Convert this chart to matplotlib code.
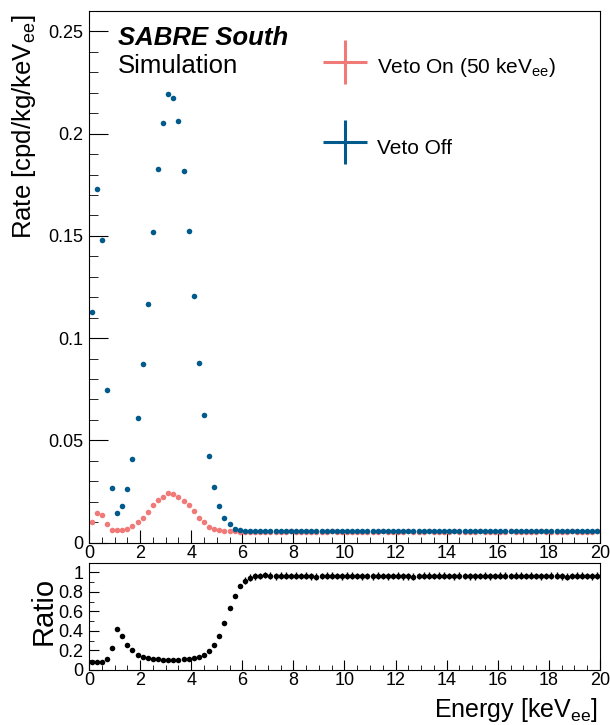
import numpy as np
import matplotlib
matplotlib.use('Agg')
import matplotlib.pyplot as plt
from matplotlib.lines import Line2D
from matplotlib.ticker import MultipleLocator, FuncFormatter

plt.rcParams['font.family'] = ['Liberation Sans', 'DejaVu Sans']
plt.rcParams['mathtext.default'] = 'regular'

# 100 bins of 0.2 keV from 0 to 20 keV
bin_edges = np.linspace(0, 20, 101)
energy = 0.5 * (bin_edges[:-1] + bin_edges[1:])

veto_off = [0.113, 0.173, 0.148, 0.0747, 0.0267, 0.0143, 0.0177, 0.0264, 0.0407, 0.0607,
            0.0871, 0.1168, 0.152, 0.1825, 0.2052, 0.2194, 0.2175, 0.206, 0.1815, 0.1526,
            0.1205, 0.0878, 0.0624, 0.0423, 0.0274, 0.0178, 0.0122, 0.0089, 0.0068, 0.0059,
            0.0055, 0.0054, 0.0055, 0.0055, 0.0054, 0.0055, 0.0055, 0.0054, 0.0055, 0.0056,
            0.0055, 0.0054, 0.0055, 0.0055, 0.0055, 0.0054, 0.0055, 0.0056, 0.0055, 0.0055,
            0.0054, 0.0055, 0.0055, 0.0054, 0.0055, 0.0055, 0.0055, 0.0056, 0.0055, 0.0054,
            0.0055, 0.0055, 0.0056, 0.0055, 0.0055, 0.0055, 0.0056, 0.0055, 0.0055, 0.0054,
            0.0055, 0.0056, 0.0055, 0.0055, 0.0055, 0.0055, 0.0056, 0.0055, 0.0055, 0.0054,
            0.0055, 0.0055, 0.0056, 0.0055, 0.0055, 0.0055, 0.0054, 0.0055, 0.0056, 0.0055,
            0.0055, 0.0055, 0.0054, 0.0055, 0.0056, 0.0055, 0.0055, 0.0054, 0.0055, 0.0057]

veto_on = [0.0100, 0.0144, 0.0133, 0.0089, 0.0061, 0.0059, 0.0059, 0.0068, 0.0082, 0.0100,
           0.0121, 0.0147, 0.0183, 0.0208, 0.0225, 0.0240, 0.0237, 0.0225, 0.0204, 0.0183,
           0.0156, 0.0121, 0.0099, 0.0076, 0.0066, 0.0061, 0.0057, 0.0056, 0.0054, 0.0053,
           0.0053, 0.0052, 0.0053, 0.0053, 0.0052, 0.0053, 0.0053, 0.0052, 0.0053, 0.0054,
           0.0053, 0.0052, 0.0053, 0.0053, 0.0053, 0.0052, 0.0053, 0.0054, 0.0053, 0.0053,
           0.0052, 0.0053, 0.0053, 0.0052, 0.0053, 0.0053, 0.0053, 0.0054, 0.0053, 0.0052,
           0.0053, 0.0053, 0.0054, 0.0053, 0.0053, 0.0053, 0.0054, 0.0053, 0.0053, 0.0052,
           0.0053, 0.0054, 0.0053, 0.0053, 0.0053, 0.0053, 0.0054, 0.0053, 0.0053, 0.0052,
           0.0053, 0.0053, 0.0054, 0.0053, 0.0053, 0.0053, 0.0052, 0.0053, 0.0054, 0.0053,
           0.0053, 0.0053, 0.0052, 0.0053, 0.0054, 0.0053, 0.0053, 0.0052, 0.0053, 0.0055]

ratio = [0.082, 0.078, 0.085, 0.116, 0.224, 0.415, 0.347, 0.259, 0.200, 0.156,
         0.133, 0.119, 0.112, 0.109, 0.105, 0.105, 0.105, 0.105, 0.109, 0.116,
         0.122, 0.133, 0.150, 0.194, 0.255, 0.347, 0.483, 0.639, 0.762, 0.864,
         0.915, 0.946, 0.959, 0.963, 0.973, 0.966, 0.962, 0.967, 0.965, 0.963,
         0.966, 0.964, 0.967, 0.962, 0.955, 0.963, 0.966, 0.965, 0.964, 0.962,
         0.966, 0.965, 0.963, 0.960, 0.964, 0.962, 0.966, 0.963, 0.962, 0.964,
         0.966, 0.962, 0.960, 0.955, 0.964, 0.966, 0.965, 0.963, 0.967, 0.966,
         0.964, 0.962, 0.966, 0.963, 0.960, 0.962, 0.964, 0.965, 0.962, 0.963,
         0.966, 0.967, 0.963, 0.965, 0.966, 0.964, 0.965, 0.963, 0.962, 0.964,
         0.966, 0.965, 0.962, 0.958, 0.964, 0.966, 0.965, 0.963, 0.962, 0.966]
ratio_err = [0.004] * 30 + [0.035] * 70

blue = '#005a8c'
red = '#f07a78'

fig = plt.figure(figsize=(6.1, 7.25), dpi=100)
ax = fig.add_axes([0.1459, 0.2517, 0.8377, 0.7331])
rax = fig.add_axes([0.1459, 0.0759, 0.8377, 0.148])

ax.plot(energy, veto_on, 'o', color=red, ms=4.0, mew=0)
ax.plot(energy, veto_off, 'o', color=blue, ms=4.0, mew=0)
rax.errorbar(energy, ratio, yerr=ratio_err, xerr=0.07, fmt='o', color='black', ms=4.0,
             mew=0, elinewidth=1.0, capsize=0)

fmt = FuncFormatter(lambda v, p: '%g' % round(v, 3))
for a in (ax, rax):
    a.set_xlim(0, 20)
    a.xaxis.set_major_locator(MultipleLocator(2))
    a.xaxis.set_minor_locator(MultipleLocator(0.5))
    a.yaxis.set_major_formatter(fmt)
    a.tick_params(which='both', direction='in', top=False, right=False, labelsize=13)
    a.tick_params(axis='x', which='both', pad=1.5)
    a.tick_params(axis='y', which='both', pad=4)
    for s in a.spines.values():
        s.set_linewidth(0.8)

ax.set_ylim(0, 0.26)
ax.yaxis.set_major_locator(MultipleLocator(0.05))
ax.yaxis.set_minor_locator(MultipleLocator(0.01))
ax.tick_params(axis='y', which='major', length=13.5)
ax.tick_params(axis='y', which='minor', length=6.5)
ax.tick_params(axis='x', which='major', length=9.5)
ax.tick_params(axis='x', which='minor', length=4.5)

rax.set_ylim(0, 1.1)
rax.yaxis.set_major_locator(MultipleLocator(0.2))
rax.yaxis.set_minor_locator(MultipleLocator(0.1))
rax.tick_params(axis='y', which='major', length=7)
rax.tick_params(axis='y', which='minor', length=3.5)
rax.tick_params(axis='x', which='major', length=7.5)
rax.tick_params(axis='x', which='minor', length=3.5)

ax.set_ylabel('Rate [cpd/kg/keV$_{ee}$]', fontsize=18.5)
ax.yaxis.set_label_coords(-0.127, 0.9925)
ax.yaxis.label.set(ha='right', va='center')

rax.set_ylabel('Ratio', fontsize=21)
rax.yaxis.set_label_coords(-0.088, 0.55)
rax.yaxis.label.set(ha='center', va='center')

rax.set_xlabel('Energy [keV$_{ee}$]', fontsize=18)
rax.xaxis.set_label_coords(0.996, -0.373)
rax.xaxis.label.set(ha='right', va='center')

ax.text(0.057, 0.949, 'SABRE South', transform=ax.transAxes, fontsize=18.5,
        fontweight='bold', fontstyle='italic', ha='left', va='center')
ax.text(0.057, 0.897, 'Simulation', transform=ax.transAxes, fontsize=18.5,
        ha='left', va='center')

handles = [Line2D([], [], color=red, marker='+', ms=32, mew=2.2, ls='none'),
           Line2D([], [], color=blue, marker='+', ms=32, mew=2.2, ls='none')]
ax.legend(handles, ['Veto On (50 keV$_{ee}$)', 'Veto Off'], loc='upper left',
          bbox_to_anchor=(0.460, 0.926), frameon=False, fontsize=15,
          borderpad=0, borderaxespad=0, handlelength=2.0, handleheight=2.0,
          handletextpad=0.54, labelspacing=2.33)

fig.savefig('out.png', dpi=100)
